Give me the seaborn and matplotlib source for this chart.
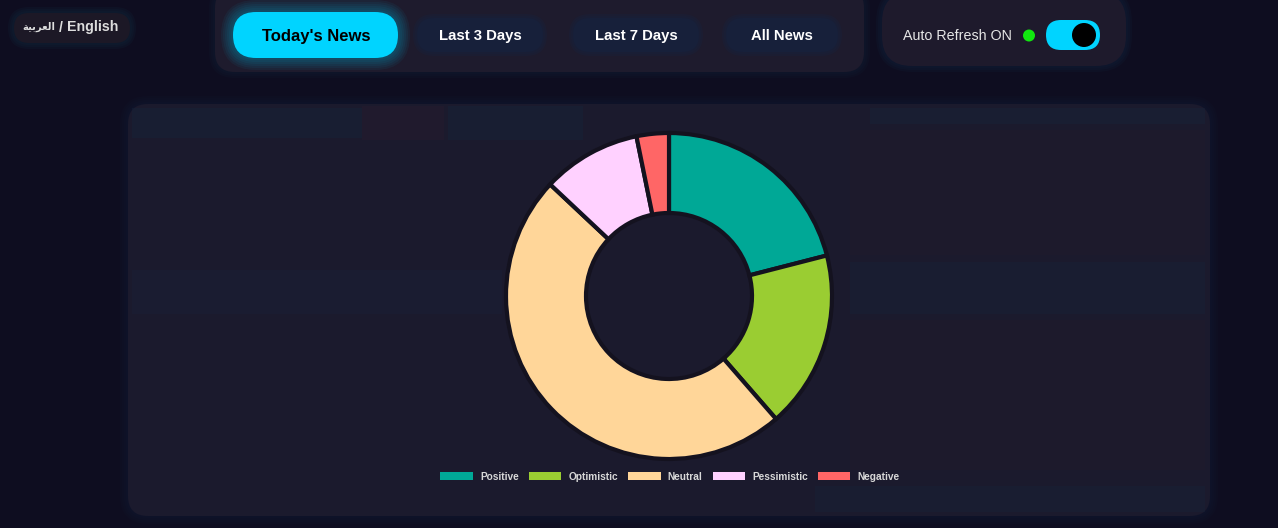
import matplotlib
matplotlib.use('Agg')
import matplotlib.pyplot as plt
import seaborn as sns
from matplotlib.patches import FancyBboxPatch, Rectangle, Patch, Circle

# Chart values
labels = ["Positive", "Optimistic", "Neutral", "Pessimistic", "Negative"]
shares = [21.0, 17.6, 48.4, 9.8, 3.2]
slice_colors = ["#00A896", "#9ACD32", "#FFD699", "#FFD1FF", "#FF6666"]

nav_labels = ["Today's News", "Last 3 Days", "Last 7 Days", "All News"]
nav_centers = [316, 480, 636, 782]

BG = "#0E0D20"
PANEL = "#1B1A2D"
EDGE = "#14121F"

sns.set_theme(style="dark", rc={"figure.facecolor": BG, "axes.facecolor": BG})
plt.rcParams['font.family'] = ['Liberation Sans', 'DejaVu Sans']

fig = plt.figure(figsize=(12.78, 5.28), dpi=100)
ui = fig.add_axes([0, 0, 1, 1])
ui.set_xlim(0, 1278)
ui.set_ylim(528, 0)
ui.axis('off')


def box(x0, y0, x1, y1, r, color, alpha=1.0, z=1):
    p = FancyBboxPatch((x0 + r, y0 + r), x1 - x0 - 2 * r, y1 - y0 - 2 * r,
                       boxstyle=f"round,pad={r},rounding_size={r}",
                       fc=color, ec='none', alpha=alpha, zorder=z)
    ui.add_patch(p)


def glow(x0, y0, x1, y1, r, color, spread=10, alpha=0.07, z=1):
    for i in range(spread, 0, -2):
        box(x0 - i, y0 - i, x1 + i, y1 + i, r + i, color, alpha, z)


# main panel, the tinted blocks in it are very faint
glow(128, 104, 1210, 516, 20, "#141E38", spread=8, alpha=0.12)
box(128, 104, 1210, 516, 20, PANEL, z=1)
tints = [(132, 108, 230, 30, "#16233A"), (448, 106, 135, 34, "#16233A"),
         (362, 106, 82, 34, "#271A2E"), (870, 108, 335, 16, "#18243A"),
         (132, 270, 370, 44, "#1A2036"), (850, 262, 355, 52, "#172238"),
         (815, 486, 390, 26, "#172238"), (850, 130, 355, 125, "#211A2C"),
         (850, 320, 355, 150, "#201A2C")]
for x, y, w, h, c in tints:
    ui.add_patch(Rectangle((x, y), w, h, fc=c, ec='none', alpha=0.45, zorder=1.1))

# top bar
glow(215, -12, 864, 72, 20, "#10233A", spread=6, alpha=0.15)
box(215, -12, 864, 72, 20, "#1E1B2D", z=2)
for cx, w in zip(nav_centers[1:], [132, 132, 118]):
    glow(cx - w / 2 + 3, 18, cx + w / 2 - 3, 52, 17, "#17223F", spread=4, alpha=0.3, z=2.1)
    box(cx - w / 2 + 3, 18, cx + w / 2 - 3, 52, 17, "#17203A", z=2.1)
glow(233, 12, 398, 58, 23, "#00D4FF", spread=12, alpha=0.05, z=2.2)
box(233, 12, 398, 58, 23, "#00D4FF", z=3)
for i, (name, cx) in enumerate(zip(nav_labels, nav_centers)):
    ui.text(cx, 36.5 if i == 0 else 36, name, ha='center', va='center',
            fontsize=12 if i == 0 else 10.7, fontweight='bold',
            color='black' if i == 0 else 'white', zorder=4)

# language switch
glow(14, 13, 130, 43, 15, "#10283C", spread=6, alpha=0.2)
box(14, 13, 130, 43, 15, "#1C1826", z=2)
ui.text(22, 26.5, "\uFE94\uFEF4\uFE91\uFEAE\uFECC\uFEDF\uFE8D", ha='left', va='center',
        fontsize=7.2, fontweight='bold', color='#DDDDDD', family='DejaVu Sans', zorder=4)
ui.text(59, 27.5, "/", ha='left', va='center', fontsize=10.2,
        fontweight='bold', color='#DDDDDD', zorder=4)
ui.text(67, 27.5, "English", ha='left', va='center', fontsize=10.2,
        fontweight='bold', color='#DDDDDD', zorder=4)

# auto refresh block
glow(882, -8, 1126, 66, 30, "#10233A", spread=6, alpha=0.2)
box(882, -8, 1126, 66, 30, "#1E1A2C", z=2)
ui.text(903, 35.5, "Auto Refresh ON", ha='left', va='center', fontsize=10.3,
        color='#E6E6E6', zorder=4)
ui.add_patch(Circle((1029, 35.5), 6, fc='#11E80F', ec='none', zorder=4))
box(1046, 20, 1100, 50, 15, "#00D4FF", z=3)
ui.add_patch(Circle((1084, 35), 12, fc='black', ec='none', zorder=4))

# doughnut
R = 163
cx, cy = 669, 296
ax = fig.add_axes([(cx - R - 3) / 1278, 1 - (cy + R + 3) / 528,
                   (2 * R + 6) / 1278, (2 * R + 6) / 528])
ax.set_facecolor('none')
palette = sns.color_palette(slice_colors)
ax.pie(shares, colors=palette, startangle=90, counterclock=False,
       radius=R / (R + 3),
       wedgeprops={'width': 80 / (R + 3), 'edgecolor': EDGE, 'linewidth': 3})
ax.set_xlim(-1, 1)
ax.set_ylim(-1, 1)

handles = [Patch(fc=c, ec='none') for c in palette]
leg = fig.legend(handles, labels, ncol=5, loc='center',
                 bbox_to_anchor=(670 / 1278, 1 - 476.5 / 528), frameon=False,
                 fontsize=7.3, handlelength=3.2, handleheight=0.75,
                 handletextpad=0.7, columnspacing=1.0, borderpad=0)
for t in leg.get_texts():
    t.set_color('#D8D8D8')
    t.set_fontweight('bold')

fig.savefig('out.png', dpi=100, facecolor=BG)
